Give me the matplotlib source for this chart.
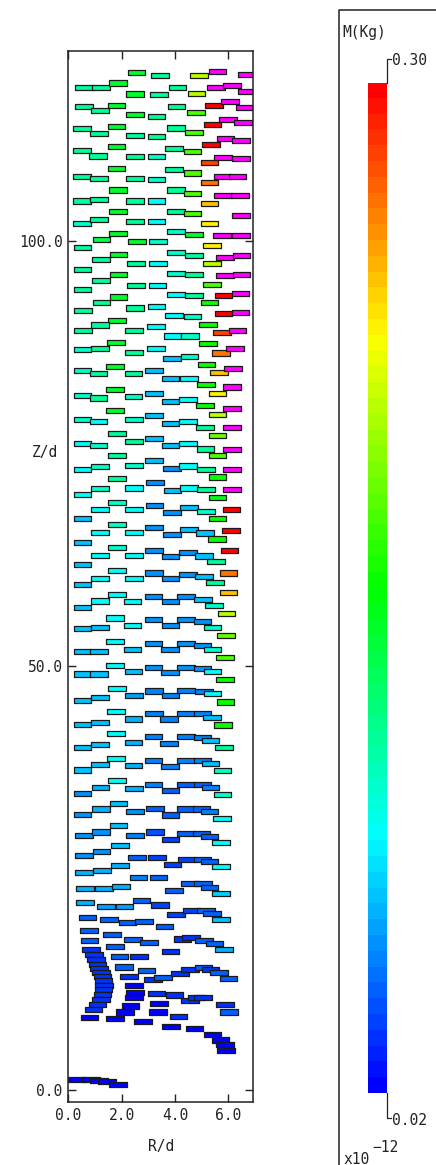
import numpy as np
import matplotlib
matplotlib.use("Agg")
import matplotlib.pyplot as plt
from matplotlib.patches import Rectangle
from matplotlib.collections import PatchCollection
from matplotlib.colors import ListedColormap, Normalize, hsv_to_rgb
from matplotlib.lines import Line2D

# particle centres (R/d, Z/d) and mass (x1e-12 kg)
r_top = [2.56, 3.44, 4.90, 5.60, 6.71,
         0.59, 1.23, 1.87, 2.50, 3.40, 4.09, 4.81, 5.54, 6.15, 6.69,
         0.59, 1.19, 1.81, 2.50, 3.31, 4.06, 4.78, 5.47, 6.06, 6.63,
         0.52, 1.15, 1.81, 2.50, 3.31, 4.03, 4.71, 5.41, 6.00, 6.56,
         0.52, 1.12, 1.81, 2.50, 3.31, 3.97, 4.66, 5.35, 5.90, 6.48,
         0.52, 1.16, 1.81, 2.50, 3.31, 3.97, 4.66, 5.29, 5.81, 6.48,
         0.52, 1.16, 1.87, 2.50, 3.31, 4.03, 4.66, 5.29, 5.81, 6.35,
         0.52, 1.16, 1.87, 2.50, 3.31, 4.03, 4.66, 5.29, 5.81, 6.44,
         5.30, 6.47, 1.86, 5.76, 6.47, 4.04, 4.71]
z_top = [119.8, 119.5, 119.5, 120.0, 119.6,
         118.1, 118.1, 118.6, 117.3, 117.2, 118.1, 117.4, 118.1, 118.3, 117.6,
         115.8, 115.4, 116.0, 114.9, 114.7, 115.8, 115.1, 115.9, 116.4, 115.7,
         113.2, 112.6, 113.5, 112.4, 112.3, 113.3, 112.8, 113.7, 114.3, 113.9,
         110.6, 110.0, 111.1, 109.9, 109.9, 110.9, 110.5, 111.4, 112.1, 111.8,
         107.6, 107.4, 108.5, 107.4, 107.2, 108.4, 108.0, 109.2, 109.8, 109.7,
         104.7, 104.9, 106.0, 104.7, 104.7, 106.0, 105.6, 106.9, 107.6, 107.6,
         102.0, 102.5, 103.5, 102.3, 102.3, 103.5, 103.2, 104.4, 105.3, 105.3,
         102.0, 103.0, 100.9, 100.6, 100.6, 101.1, 100.8]
m_top = [.15, .12, .21, .4, .4,
         .12, .12, .15, .15, .12, .12, .21, .4, .4, .4,
         .12, .12, .15, .15, .12, .12, .18, .30, .4, .4,
         .12, .12, .15, .12, .12, .12, .18, .30, .4, .4,
         .12, .12, .15, .12, .105, .12, .18, .30, .4, .4,
         .12, .12, .15, .12, .105, .12, .18, .28, .4, .4,
         .12, .12, .15, .12, .09, .12, .18, .265, .4, .4,
         .105, .12, .15, .12, .09, .12, .18, .245, .4, .4,
         .23, .4, .15, .4, .4, .105, .15]

r_upper = [0.53, 1.24, 2.58, 3.37, 5.38, 4.03, 4.72, 1.88, 1.23, 5.88, 6.49,
           2.55, 3.36, 5.38, 0.53, 4.03, 4.72, 1.88, 1.23, 5.88, 6.49,
           2.53, 3.34, 5.38, 0.53, 4.03, 4.71, 5.82, 6.46, 1.88, 1.24,
           5.29, 3.31, 2.51, 0.56, 3.97, 4.66, 5.82, 6.46, 1.82, 1.20,
           5.25, 3.28, 2.47, 0.56, 5.77, 6.34, 3.91, 4.56, 5.24, 1.79,
           1.18, 0.53, 2.47, 3.28, 5.72, 6.26, 3.90, 4.54, 5.19, 1.76,
           0.53, 1.13, 2.44, 3.22, 3.84, 4.53, 5.16, 5.66, 6.18, 1.76,
           0.53, 1.13, 2.44, 3.22, 3.84, 4.50, 5.13, 5.59, 6.13, 1.76,
           0.53, 1.13, 2.47, 3.22, 3.84, 4.50, 5.13, 5.59, 5.59, 6.13,
           1.83, 0.53, 1.13, 2.47, 3.22, 3.84, 4.50, 5.14, 5.59, 6.13,
           1.83, 0.53, 1.20, 2.47, 3.22, 3.88, 4.50, 5.16, 5.59, 6.13,
           6.13, 1.83, 0.53, 1.20, 2.47, 3.26, 3.91, 4.53, 5.16, 6.13, 5.59]
z_upper = [99.2, 100.2, 99.9, 99.9, 99.5, 98.6, 98.3, 98.4, 97.8, 98.1, 98.3,
           97.3, 97.3, 97.3, 96.6, 96.2, 96.0, 96.0, 95.3, 95.9, 96.0,
           94.8, 94.8, 94.9, 94.3, 93.7, 93.6, 93.6, 93.8, 93.4, 92.7,
           92.7, 92.3, 92.1, 91.8, 91.2, 91.1, 91.5, 91.6, 90.6, 90.1,
           90.2, 89.9, 89.5, 89.5, 89.2, 89.5, 88.8, 88.8, 87.9, 88.0,
           87.3, 87.2, 86.9, 87.3, 86.8, 87.3, 86.2, 86.4, 85.5, 85.2,
           84.7, 84.4, 84.4, 84.7, 83.8, 83.8, 83.1, 84.5, 85.0, 82.5,
           81.8, 81.5, 81.7, 82.0, 81.1, 81.3, 80.6, 82.0, 82.8, 80.0,
           79.0, 78.7, 79.0, 79.4, 78.5, 78.7, 78.0, 77.1, 79.6, 80.3,
           77.3, 76.1, 75.9, 76.4, 76.7, 75.9, 76.1, 75.5, 74.7, 78.0,
           74.7, 73.1, 73.4, 73.6, 74.1, 73.2, 73.5, 73.1, 72.2, 75.4,
           73.1, 72.0, 70.1, 70.8, 70.9, 71.5, 70.6, 70.9, 70.7, 70.7, 69.8]
m_upper = [.12, .14, .15, .105, .23, .105, .12, .15, .12, .4, .4,
           .12, .09, .21, .12, .105, .12, .15, .12, .4, .4,
           .12, .09, .18, .12, .09, .12, .30, .4, .15, .12,
           .16, .09, .12, .12, .09, .105, .30, .4, .15, .12,
           .16, .09, .12, .12, .28, .4, .09, .105, .16, .15,
           .12, .105, .12, .09, .265, .4, .075, .105, .16, .15,
           .105, .12, .12, .075, .075, .09, .16, .245, .4, .15,
           .105, .12, .105, .075, .075, .09, .16, .23, .4, .15,
           .105, .09, .105, .075, .075, .09, .12, .19, .21, .4,
           .12, .09, .105, .12, .075, .075, .09, .12, .18, .4,
           .12, .09, .105, .105, .075, .06, .09, .12, .16, .4,
           .4, .12, .09, .105, .09, .06, .075, .09, .12, .4, .155]

r_mid = [0.53, 1.20, 1.82, 2.47, 3.24, 3.90, 4.53, 5.16, 5.59, 6.12,
         0.53, 1.20, 1.82, 2.47, 3.22, 3.88, 4.53, 5.13, 5.58, 6.10,
         0.53, 1.20, 1.82, 2.47, 3.22, 3.83, 4.48, 5.10, 5.53, 6.04,
         0.53, 1.20, 1.82, 2.47, 3.22, 3.83, 4.48, 5.10, 5.50, 6.01,
         0.53, 1.20, 1.82, 2.41, 3.19, 3.83, 4.42, 5.06, 5.47, 6.01,
         0.53, 1.20, 1.76, 2.41, 3.19, 3.83, 4.42, 5.03, 5.41, 5.94,
         0.53, 1.16, 1.76, 2.41, 3.19, 3.81, 4.42, 5.03, 5.41, 5.92,
         0.53, 1.16, 1.76, 2.44, 3.19, 3.81, 4.42, 5.03, 5.41, 5.87, 5.88]
z_mid = [67.3, 68.4, 69.2, 68.4, 68.8, 68.0, 68.6, 68.1, 67.3, 68.4,
         64.5, 65.7, 66.6, 65.7, 66.3, 65.4, 66.0, 65.6, 64.9, 65.9,
         61.9, 63.0, 63.9, 63.0, 63.5, 62.8, 63.3, 62.9, 62.2, 63.5,
         59.5, 60.3, 61.2, 60.3, 60.9, 60.2, 60.7, 60.5, 59.8, 60.9,
         56.8, 57.6, 58.4, 57.5, 58.1, 57.5, 58.1, 57.8, 57.1, 58.6,
         54.4, 54.5, 55.6, 54.7, 55.4, 54.7, 55.4, 55.2, 54.5, 56.1,
         51.7, 51.7, 52.8, 51.9, 52.6, 51.9, 52.6, 52.4, 51.9, 53.5,
         49.0, 49.0, 50.0, 49.3, 49.8, 49.2, 49.8, 49.6, 49.3, 50.9, 48.3]
m_mid = [.075, .09, .105, .09, .06, .06, .075, .105, .16, .30,
         .075, .09, .105, .09, .06, .06, .075, .075, .16, .30,
         .075, .09, .105, .09, .06, .06, .06, .075, .12, .30,
         .075, .09, .09, .09, .06, .06, .06, .075, .12, .265,
         .075, .09, .09, .09, .06, .06, .06, .075, .105, .245,
         .075, .075, .09, .09, .06, .06, .06, .06, .105, .21,
         .075, .075, .09, .075, .06, .06, .06, .06, .105, .19,
         .075, .075, .09, .075, .06, .06, .06, .06, .09, .18, .16]

r_low = [0.53, 1.20, 1.82, 2.47, 3.22, 3.83, 4.42, 5.10, 5.41, 5.89,
         1.80, 0.53, 1.20, 2.44, 3.21, 3.78, 4.42, 5.03, 5.39, 5.81,
         1.80, 0.53, 1.20, 2.44, 3.19, 3.78, 4.42, 5.03, 5.34, 5.83,
         1.80, 0.53, 1.20, 2.44, 3.19, 3.81, 4.42, 5.03, 5.34, 5.79,
         1.83, 0.53, 1.21, 2.47, 3.19, 3.83, 4.42, 5.03, 5.34, 5.79,
         1.88, 0.53, 1.22, 2.51, 3.26, 3.83, 4.42, 5.00, 5.29, 5.77,
         1.88, 0.60, 1.23, 2.51, 3.26, 3.83, 4.42, 5.00, 5.29, 5.73,
         1.93, 0.60, 1.24, 2.57, 3.32, 3.91, 4.44, 5.04, 5.29, 5.73,
         1.93, 0.60, 1.27, 2.63, 3.39]
z_low = [45.9, 46.2, 47.3, 46.5, 47.0, 46.5, 47.1, 46.9, 46.7, 45.7,
         44.6, 43.1, 43.3, 43.7, 44.4, 43.7, 44.4, 44.4, 43.9, 43.0,
         42.0, 40.3, 40.7, 40.9, 41.6, 40.8, 41.6, 41.5, 41.2, 40.3,
         39.1, 37.7, 38.3, 38.2, 38.8, 38.1, 38.8, 38.8, 38.5, 37.6,
         36.5, 34.9, 35.6, 35.5, 36.0, 35.3, 36.0, 36.0, 35.6, 34.8,
         33.8, 32.5, 33.1, 32.8, 33.2, 32.4, 33.1, 33.1, 32.8, 32.0,
         31.2, 30.0, 30.4, 30.0, 30.4, 29.5, 30.2, 30.2, 29.9, 29.2,
         28.8, 27.6, 28.1, 27.4, 27.4, 26.6, 27.2, 27.2, 26.9, 26.3,
         26.4, 25.6, 25.9, 25.0, 25.0]
m_low = [.075, .075, .09, .065, .055, .055, .055, .055, .09, .16,
         .09, .075, .075, .07, .055, .055, .055, .055, .075, .16,
         .09, .075, .075, .07, .055, .055, .055, .055, .075, .12,
         .09, .075, .075, .07, .055, .055, .055, .055, .075, .105,
         .09, .06, .07, .07, .055, .05, .05, .05, .055, .105,
         .075, .06, .07, .06, .05, .05, .05, .05, .055, .09,
         .075, .06, .06, .055, .045, .04, .05, .05, .05, .09,
         .075, .06, .06, .05, .04, .04, .04, .05, .05, .09,
         .07, .07, .07, .055, .05]

r_base = [0.63, 1.35, 1.98, 3.97, 4.56, 5.06, 5.29, 5.73,
          0.63, 1.42, 2.11, 2.74, 3.43, 4.05, 4.62, 5.16, 5.38, 5.73,
          0.72, 1.53, 2.22, 2.85, 3.61,
          0.77, 1.65, 2.43, 3.03, 3.83, 4.28, 4.61, 5.10, 5.48, 5.83,
          0.79, 0.86, 0.97, 1.03, 1.09, 1.16, 1.22, 1.28, 1.32, 1.35,
          1.32, 1.28, 1.22, 1.09, 0.94, 0.79,
          1.75, 1.92, 2.10, 2.28, 2.47, 2.51, 2.47, 2.34, 2.13, 1.76,
          2.66, 2.93, 3.17, 3.31, 3.41, 3.36, 2.81, 3.55,
          4.18, 4.56, 5.07, 5.34, 5.66, 6.01, 3.98, 4.56, 4.81, 5.05,
          5.88, 6.03, 4.14, 3.86, 4.73, 5.41, 5.71, 5.88, 5.91,
          0.33, 0.85, 1.15, 1.45, 1.86]
z_base = [23.7, 23.7, 24.0, 23.5, 24.3, 24.3, 23.9, 23.2,
          22.1, 21.6, 21.6, 22.3, 21.8, 20.7, 21.2, 21.2, 20.8, 20.1,
          20.3, 20.1, 19.7, 19.9, 19.3,
          18.8, 18.3, 17.7, 17.4, 16.3, 17.8, 18.0, 17.6, 17.3, 16.6,
          17.6, 16.6, 16.0, 15.4, 14.8, 14.3, 13.8, 13.4, 12.9, 12.3,
          11.8, 11.3, 10.7, 10.1, 9.5, 8.5,
          16.9, 15.7, 14.5, 13.4, 12.3, 11.5, 10.9, 9.9, 9.2, 8.4,
          15.7, 14.1, 13.0, 11.4, 10.2, 9.2, 8.1, 13.3,
          13.7, 14.2, 14.4, 14.2, 13.8, 13.1, 11.2, 10.5, 10.9, 10.9,
          10.1, 9.2, 8.7, 7.5, 7.3, 6.6, 5.9, 5.4, 4.7,
          1.3, 1.3, 1.1, 1.0, 0.7]
m_base = [.07, .07, .07, .05, .05, .05, .05, .08,
          .07, .065, .065, .05, .04, .04, .04, .05, .05, .075,
          .05, .05, .05, .05, .05,
          .05, .05, .05, .05, .035, .035, .035, .05, .05, .07,
          .05, .035, .035, .035, .035, .035, .035, .035, .035, .035,
          .035, .035, .035, .035, .035, .02,
          .05, .05, .05, .035, .02, .02, .02, .02, .02, .02,
          .035, .05, .035, .035, .02, .02, .02, .05,
          .035, .035, .05, .035, .05, .05, .035, .035, .035, .035,
          .035, .05, .035, .02, .02, .02, .02, .02, .02,
          .02, .02, .02, .02, .02]

r_all = np.array(r_top + r_upper + r_mid + r_low + r_base)
z_all = np.array(z_top + z_upper + z_mid + z_low + z_base)
m_all = np.array(m_top + m_upper + m_mid + m_low + m_base)

m_min, m_max = 0.02, 0.30
x_ticks = [0, 2, 4, 6]
y_ticks = [0, 50, 100]

# hue ramp blue -> cyan -> green -> yellow -> red, values above max in magenta
n_levels = 64
cmap = ListedColormap([hsv_to_rgb((h, 1, 1)) for h in np.linspace(240 / 360, 0, n_levels)])
cmap.set_over('#ff00ff')
norm = Normalize(m_min, m_max)

W, H = 436, 1165
font = 'DejaVu Sans Mono'
fs = 10.5
ink = '#222222'


def fx(px):
    return px / W


def fy(py):
    return 1 - py / H


fig = plt.figure(figsize=(W / 100, H / 100), dpi=100)
ax = fig.add_axes([fx(68.3), fy(1102), (253.3 - 68.3) / W, (1102 - 50.7) / H])

box_w, box_h = 0.66, 0.6
rects = [Rectangle((r - box_w / 2, z - box_h / 2), box_w, box_h) for r, z in zip(r_all, z_all)]
pc = PatchCollection(rects, cmap=cmap, norm=norm, edgecolor='#1a1a1a', linewidth=0.9)
pc.set_array(m_all)
ax.add_collection(pc)

ax.set_xlim(0, 6.94)
ax.set_ylim(-1.4, 122.4)
ax.set_xticks(x_ticks)
ax.set_xticklabels([f'{v:.1f}' for v in x_ticks], fontfamily=font, fontsize=fs)
ax.set_yticks(y_ticks)
ax.set_yticklabels([f'{v:.1f}' for v in y_ticks], fontfamily=font, fontsize=fs)
ax.tick_params(direction='in', length=6, width=1, top=True, right=True, color=ink, labelcolor=ink)
ax.tick_params(axis='x', pad=4)
ax.tick_params(axis='y', pad=4)
for s in ax.spines.values():
    s.set_linewidth(1.1)
    s.set_color(ink)

fig.text(fx(160.8), fy(1147), 'R/d', ha='center', va='center', fontfamily=font, fontsize=fs, color=ink)
fig.text(fx(45), fy(453), 'Z/d', ha='center', va='center', fontfamily=font, fontsize=fs, color=ink)

# colour scale panel
cax = fig.add_axes([fx(367.7), fy(1093.3), 19 / W, (1093.3 - 82.7) / H])
cax.imshow(np.arange(n_levels).reshape(-1, 1), cmap=cmap, norm=Normalize(0, n_levels - 1),
           aspect='auto', origin='lower', interpolation='nearest')
cax.axis('off')

fig.add_artist(Line2D([fx(339), fx(339), fx(437)], [fy(1166), fy(10), fy(10)],
                      transform=fig.transFigure, color=ink, lw=1.1))
fig.add_artist(Line2D([fx(386.7), fx(386.7), fx(391)], [fy(82.7), fy(58.5), fy(58.5)],
                      transform=fig.transFigure, color=ink, lw=0.9))
fig.add_artist(Line2D([fx(386.7), fx(386.7), fx(391)], [fy(1093.3), fy(1118.3), fy(1118.3)],
                      transform=fig.transFigure, color=ink, lw=0.9))

fig.text(fx(342.5), fy(32), 'M(Kg)', ha='left', va='center', fontfamily=font, fontsize=fs, color=ink)
fig.text(fx(391.5), fy(60.5), f'{m_max:.2f}', ha='left', va='center', fontfamily=font, fontsize=fs, color=ink)
fig.text(fx(391.5), fy(1120.5), f'{m_min:.2f}', ha='left', va='center', fontfamily=font, fontsize=fs, color=ink)
fig.text(fx(343), fy(1159), 'x10', ha='left', va='center', fontfamily=font, fontsize=fs, color=ink)
fig.text(fx(372), fy(1148), '\u221212', ha='left', va='center', fontfamily=font, fontsize=fs, color=ink)

fig.savefig('out.png', dpi=100)
